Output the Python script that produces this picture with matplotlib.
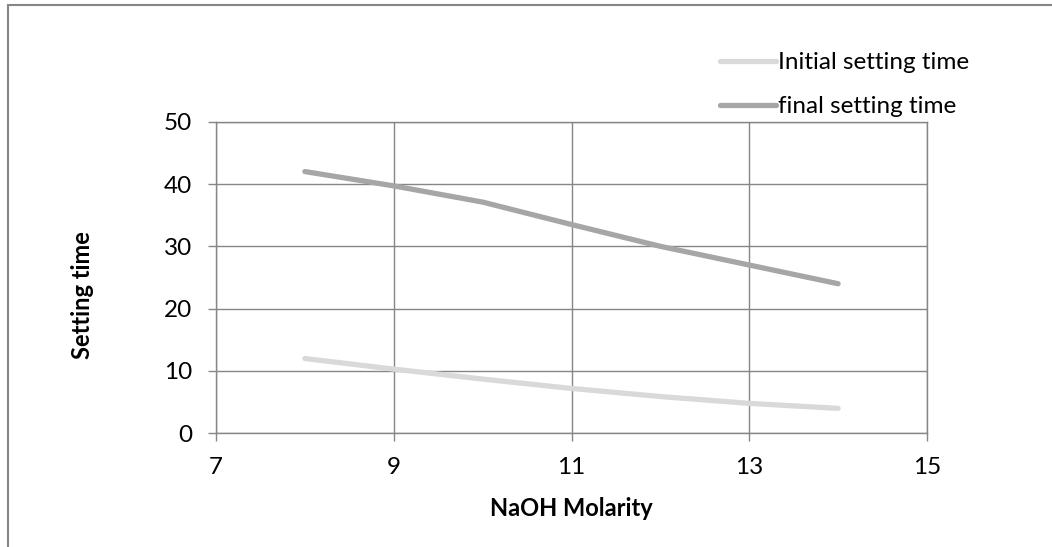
import matplotlib
matplotlib.use("Agg")
import matplotlib.pyplot as plt
from matplotlib.patches import Rectangle

# Data
molarity = [8, 9, 10, 11, 12, 13, 14]
initial_setting = [12, 10.3, 8.7, 7.2, 5.9, 4.8, 4.0]
final_setting = [42, 39.7, 37.1, 33.5, 30.0, 27.0, 24.0]
x_ticks = [7, 9, 11, 13, 15]
y_ticks = [0, 10, 20, 30, 40, 50]

plt.rcParams['font.family'] = ['Lato', 'DejaVu Sans']

W, H = 1052, 547
fig = plt.figure(figsize=(W / 100, H / 100), dpi=100)
fig.patch.set_facecolor('white')

# outer chart border (left and top visible)
fig.add_artist(Rectangle((8 / W, -0.1), 1.2, 1 - 4.7 / H + 0.1,
                         transform=fig.transFigure, fill=False,
                         edgecolor='#868686', linewidth=1.5))

left, right = 216 / W, 927 / W
bottom, top = 1 - 433.3 / H, 1 - 121.7 / H
ax = fig.add_axes([left, bottom, right - left, top - bottom])

gc = '#868686'
l1, = ax.plot(molarity, initial_setting, color='#D9D9D9', lw=3.8,
              solid_capstyle='round', solid_joinstyle='round',
              label='Initial setting time', zorder=3)
l2, = ax.plot(molarity, final_setting, color='#A6A6A6', lw=3.8,
              solid_capstyle='round', solid_joinstyle='round',
              label='final setting time', zorder=3)

ax.set_xlim(7, 15)
ax.set_ylim(0, 50)
ax.set_xticks(x_ticks)
ax.set_yticks(y_ticks)
ax.grid(True, color=gc, linewidth=1.0, zorder=1)
ax.set_axisbelow(True)
for s in ax.spines.values():
    s.set_color(gc)
    s.set_linewidth(1.0)
ax.tick_params(axis='both', direction='out', length=6, width=1.0,
               color=gc, labelsize=17.5, labelcolor='black')
ax.tick_params(axis='x', pad=11)
ax.tick_params(axis='y', pad=11)

ax.set_xlabel('NaOH Molarity', fontsize=17, fontweight='bold', va='center')
ax.xaxis.set_label_coords((571 - 216) / 711, (433.3 - 509) / 311.6)
ax.set_ylabel('Setting time', fontsize=17, fontweight='bold', va='center')
ax.yaxis.set_label_coords((82 - 216) / 711, (433.3 - 295.5) / 311.6)

leg = fig.legend(handles=[l1, l2], loc='upper left',
                 bbox_to_anchor=(720 / W, 1 - 52 / H),
                 bbox_transform=fig.transFigure, frameon=False,
                 fontsize=17.5, handlelength=2.3, handletextpad=0.1,
                 labelspacing=0.95, borderaxespad=0, borderpad=0)
leg.set_zorder(10)

fig.savefig('out.png', dpi=100, facecolor='white')
